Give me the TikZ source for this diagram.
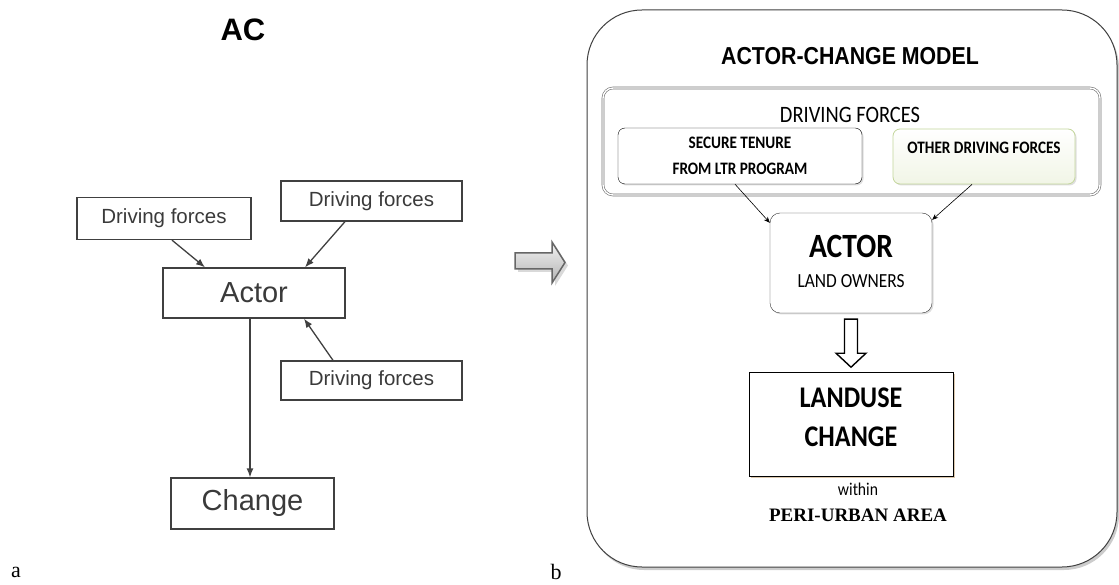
\documentclass[tikz,border=0pt]{standalone}
\usepackage{fontspec}
\setmainfont{Liberation Serif}
\newfontfamily\arialfont{Liberation Sans}
\newfontfamily\arialnarrow[FakeStretch=0.87]{Liberation Sans}
\newfontfamily\calibrifont[FakeStretch=0.87]{Carlito}
\usepackage{xcolor}
\usepackage{tikz}
\usetikzlibrary{positioning,arrows.meta,calc,shadows}
\definecolor{boxgray}{HTML}{404040}
\definecolor{textgray}{HTML}{3A3A3A}
\definecolor{softgreen}{HTML}{C3D69B}
\definecolor{palegreen}{HTML}{F1F5E6}
\definecolor{tanshadow}{HTML}{D9C3A5}
\newcommand{\pxfont}[1]{\fontsize{#1}{#1}\selectfont}

\begin{document}
\begin{tikzpicture}[x=1pt, y=-1pt,
  oldbox/.style={draw=boxgray, line width=1.3pt, text=textgray, inner sep=0pt, font=\arialfont\pxfont{20.5}},
  oldarrow/.style={-{Latex[length=9pt,width=7pt]}, line width=1.3pt, draw=boxgray},
  newarrow/.style={-{Stealth[length=6pt,width=5pt]}, line width=0.6pt},
  roundbox/.style={draw=black, fill=white, rounded corners=7pt, inner sep=0pt,
    drop shadow={opacity=0.25, shadow xshift=1.5pt, shadow yshift=-1.5pt}}]
\useasboundingbox (0,0) rectangle (1119,585);
% left panel: the plain AC scheme
\node[font=\arialfont\bfseries\pxfont{31}] (actitle) at (243,30) {AC};
\node[oldbox, minimum width=174pt, minimum height=42pt] (dfa) at (164,218.5) {Driving forces};
\node[oldbox, minimum width=181pt, minimum height=40pt] (dfb) at (371.5,201) {Driving forces};
\node[oldbox, minimum width=182pt, minimum height=50pt, font=\arialfont\pxfont{29}] (actor) at (254,293) {Actor};
\node[oldbox, minimum width=181pt, minimum height=39pt] (dfc) at (371.5,380.5) {Driving forces};
\node[oldbox, minimum width=163pt, minimum height=51pt, font=\arialfont\pxfont{29}] (change) at (252.5,503.5) {Change};
\draw[oldarrow] ([xshift=8pt]dfa.south) -- ([xshift=-49pt]actor.north);
\draw[oldarrow] ([xshift=-26.5pt]dfb.south) -- ([xshift=51pt]actor.north);
\draw[oldarrow] ([xshift=-38.5pt]dfc.north) -- ([xshift=50pt]actor.south);
\draw[oldarrow] ([xshift=-4pt]actor.south) -- ([xshift=-4pt]actor.south |- change.north);
\node[font=\pxfont{22}] (panela) at (16,572) {a};
% block arrow between the panels
\draw[top color=gray!10, bottom color=gray!60, draw=black!60, line width=1.5pt,
  drop shadow={opacity=0.3, shadow xshift=3pt, shadow yshift=-3pt}]
  (515,253) -- (552,253) -- (552,242) -- (565,262.5) -- (552,283) -- (552,269) -- (515,269) -- cycle;
% right panel: actor-change model
\draw[draw=boxgray, line width=1pt, fill=white, rounded corners=55pt,
  drop shadow={opacity=0.4, shadow xshift=2pt, shadow yshift=-3pt}] (587,10) rectangle (1117,567);
\node[font=\arialnarrow\bfseries\pxfont{24.5}] (acmtitle) at (850,56) {ACTOR-CHANGE MODEL};
\node[draw=black!55, line width=0.6pt, double=white, double distance=1.4pt, rounded corners=10pt,
  minimum width=497pt, minimum height=107pt] (dfgroup) at (851.5,141.5) {};
\node[font=\calibrifont\pxfont{23.5}] (dftitle) at (850,115) {DRIVING FORCES};
\node[roundbox, minimum width=244pt, minimum height=56pt, align=center,
  font=\calibrifont\bfseries\fontsize{17.5}{26}\selectfont] (tenure) at (740,156) {SECURE TENURE\\FROM LTR PROGRAM};
\node[roundbox, draw=softgreen, line width=0.8pt, top color=white, bottom color=palegreen,
  minimum width=182pt, minimum height=55pt] (otherdf) at (984,156.5) {};
\node[font=\calibrifont\bfseries\pxfont{17.5}] (othertxt) at (984,148) {OTHER DRIVING FORCES};
\node[roundbox, rounded corners=10pt, draw=black!80, minimum width=162pt, minimum height=100pt] (actorbox) at (851,263) {};
\node[font=\calibrifont\bfseries\pxfont{34}] (actortxt) at (851,246) {ACTOR};
\node[font=\calibrifont\pxfont{20}] (ownertxt) at (851,281) {LAND OWNERS};
\draw[newarrow] ([xshift=-5pt]tenure.south) -- ([yshift=-10pt]actorbox.north west);
\draw[newarrow] ([xshift=-12pt]otherdf.south) -- ([yshift=-7pt]actorbox.north east);
% hollow arrow down to the change box
\draw[fill=white, line width=1.4pt, line join=miter]
  ($(actorbox.south)+(-6.5,6)$) -- ++(13,0) -- ++(0,34) -- ++(8.5,0) -- ++(-15,14) -- ++(-15,-14) -- ++(8.5,0) -- cycle;
\node[draw=black, fill=white, line width=0.8pt, minimum width=204pt, minimum height=104pt,
  drop shadow={fill=tanshadow, opacity=0.9, shadow xshift=2pt, shadow yshift=-2pt}] (landuse) at (851,424) {};
\node[font=\calibrifont\bfseries\pxfont{30}] (landtxt) at (851,398) {LANDUSE};
\node[font=\calibrifont\bfseries\pxfont{30}] (changetxt) at (851,437) {CHANGE};
\node[font=\calibrifont\pxfont{18}] (within) at (858,489) {within};
\node[font=\bfseries\pxfont{19}] (periurban) at (858,515) {PERI-URBAN AREA};
\node[font=\pxfont{22}] (panelb) at (556,572) {b};
\end{tikzpicture}
\end{document}
